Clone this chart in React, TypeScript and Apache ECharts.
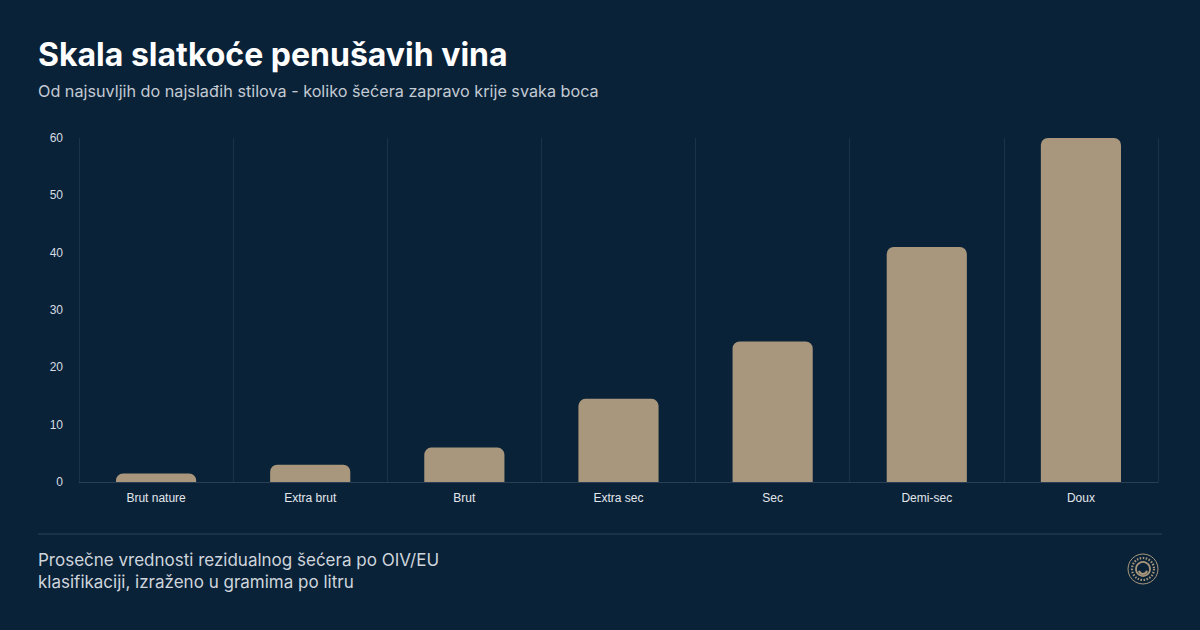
import React, { useEffect, useRef } from "react";
import * as echarts from "echarts";

// Residual sugar (g/L) per sparkling wine sweetness style
const categories = ["Brut nature", "Extra brut", "Brut", "Extra sec", "Sec", "Demi-sec", "Doux"];
const sugarValues = [1.5, 3, 6, 14.5, 24.5, 41, 60];
const yTicks = [0, 10, 20, 30, 40, 50, 60];

const BG = "#0a2238";
const BAR = "#a8977c";
const FONT = "Inter, 'Noto Sans', sans-serif";
const AXIS_FONT = "'Liberation Sans', Arial, sans-serif";

export default function App() {
  const ref = useRef<HTMLDivElement>(null);

  useEffect(() => {
    if (!ref.current) return;
    const chart = echarts.init(ref.current, null, { renderer: "svg" });
    const logoX = 1143;
    const logoY = 569;
    chart.setOption({
      animation: false,
      backgroundColor: BG,
      textStyle: { fontFamily: FONT },
      grid: { left: 79, right: 42, top: 138, bottom: 148 },
      xAxis: {
        type: "category",
        data: categories,
        axisLine: { lineStyle: { color: "#2a3f55", width: 1 } },
        axisTick: { show: false },
        axisLabel: { color: "#e2e7ec", fontSize: 12, margin: 10, fontFamily: AXIS_FONT },
        splitLine: { show: true, lineStyle: { color: "#1b3248", width: 1 } },
      },
      yAxis: {
        type: "value",
        min: yTicks[0],
        max: yTicks[yTicks.length - 1],
        interval: 10,
        axisLine: { show: false },
        axisTick: { show: false },
        splitLine: { show: false },
        axisLabel: { color: "#d6dce3", fontSize: 12, margin: 16, fontFamily: AXIS_FONT },
      },
      series: [
        {
          type: "bar",
          data: sugarValues,
          barWidth: "52%",
          itemStyle: { color: BAR, borderRadius: [7, 7, 0, 0] },
        },
      ],
      graphic: [
        {
          type: "text",
          left: 38,
          top: 38,
          style: {
            text: "Skala slatkoće penušavih vina",
            fill: "#ffffff",
            font: `bold 32px ${FONT}`,
          },
        },
        {
          type: "text",
          left: 38,
          top: 83,
          style: {
            text: "Od najsuvljih do najslađih stilova - koliko šećera zapravo krije svaka boca",
            fill: "#c3cad3",
            font: `16.2px ${FONT}`,
          },
        },
        {
          type: "line",
          shape: { x1: 38, y1: 534, x2: 1162, y2: 534 },
          style: { stroke: "#1f3850", lineWidth: 1.5 },
        },
        {
          type: "text",
          left: 38,
          top: 549,
          style: {
            text: "Prosečne vrednosti rezidualnog šećera po OIV/EU\nklasifikaciji, izraženo u gramima po litru",
            fill: "#cfd5dc",
            font: `17px ${FONT}`,
            lineHeight: 22,
          },
        },
        // small round emblem in the corner
        {
          type: "group",
          x: logoX,
          y: logoY,
          children: [
            { type: "circle", shape: { cx: 0, cy: 0, r: 15 }, style: { fill: "none", stroke: BAR, lineWidth: 1 } },
            { type: "circle", shape: { cx: 0, cy: 0, r: 11 }, style: { fill: "none", stroke: BAR, lineWidth: 2.2, lineDash: [1.5, 1.5] } },
            { type: "circle", shape: { cx: 0, cy: 0, r: 7 }, style: { fill: "none", stroke: BAR, lineWidth: 1.8 } },
            { type: "arc", shape: { cx: 0, cy: 1, r: 4, startAngle: 0.2, endAngle: Math.PI - 0.2 }, style: { stroke: BAR, lineWidth: 2, fill: "none" } },
          ],
        },
      ],
    });
    return () => chart.dispose();
  }, []);

  return (
    <div style={{ position: "fixed", left: 0, top: 0, width: 1200, height: 630, background: BG }}>
      <div ref={ref} style={{ width: 1200, height: 630 }} />
    </div>
  );
}
